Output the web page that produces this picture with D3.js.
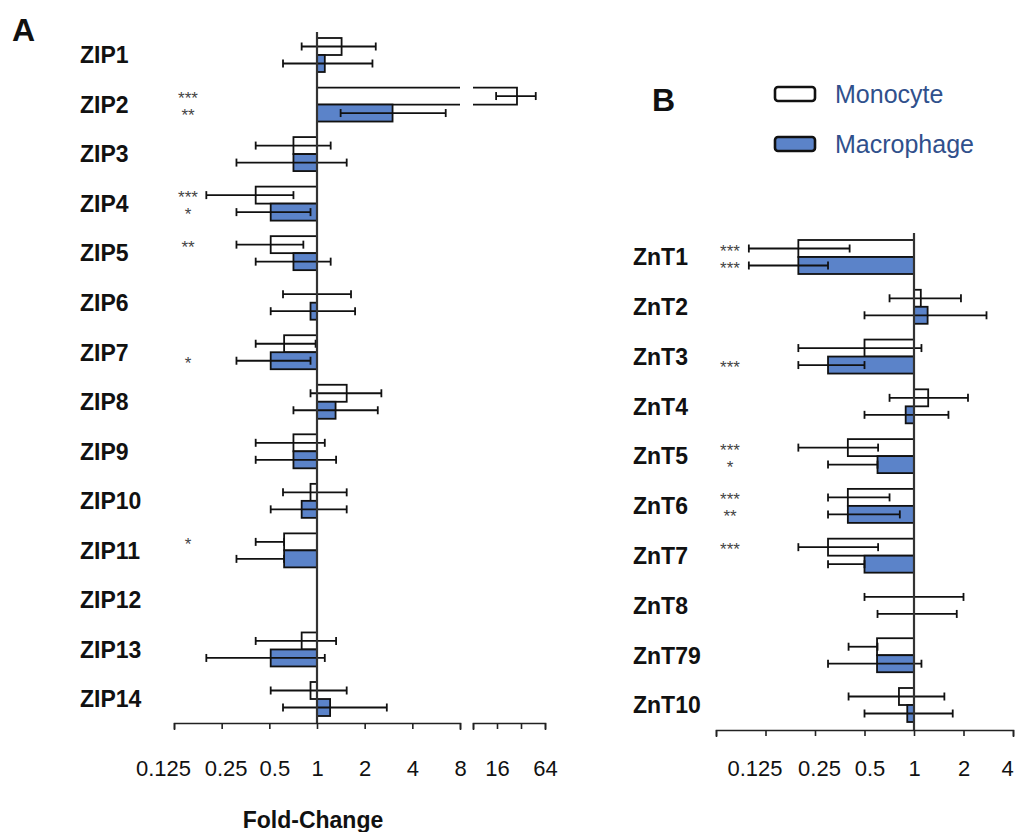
<!DOCTYPE html>
<html lang="en">
<head>
<meta charset="UTF-8">
<title>ZIP / ZnT fold-change</title>
<style>
  body { margin: 0; background: #fff; }
  svg { display: block; }
  .gene { font-family: "Liberation Sans Narrow", "Arial Narrow", sans-serif; font-weight: bold; font-size: 23px; fill: #111; }
  .tick text { font-family: "Liberation Sans Narrow", "Arial Narrow", sans-serif; font-size: 22px; fill: #111; }
  .tick line, .domain { stroke: #222; stroke-width: 1.6; }
  .star { font-family: "Liberation Sans", Arial, sans-serif; font-size: 17px; fill: #444; }
  .panel { font-family: "Liberation Sans", Arial, sans-serif; font-weight: bold; font-size: 32px; fill: #111; }
  .legend { font-family: "Liberation Sans", Arial, sans-serif; font-size: 25px; fill: #30508c; }
  .xtitle { font-family: "Liberation Sans Narrow", "Arial Narrow", sans-serif; font-weight: bold; font-size: 23px; fill: #111; }
</style>
</head>
<body>
<svg id="chart" width="1015" height="832"></svg>
<script src="https://d3js.org/d3.v7.min.js"></script>
<script>
// ---- panel A: ZIP transporters ----
const genesA   = ["ZIP1","ZIP2","ZIP3","ZIP4","ZIP5","ZIP6","ZIP7","ZIP8","ZIP9","ZIP10","ZIP11","ZIP12","ZIP13","ZIP14"];
const monoA    = [1.43, 28.5, 0.71, 0.41, 0.51, 1.0, 0.62, 1.54, 0.71, 0.91, 0.62, 1.0, 0.80, 0.91];
const monoLoA  = [0.80, 15.6, 0.41, 0.20, 0.31, 0.61, 0.41, 0.91, 0.41, 0.61, 0.41, null, 0.41, 0.51];
const monoHiA  = [2.35, 49.0, 1.22, 0.71, 0.82, 1.64, 0.98, 2.55, 1.12, 1.54, 0.62, null, 1.32, 1.54];
const macA     = [1.12, 3.0, 0.71, 0.51, 0.71, 0.91, 0.51, 1.31, 0.71, 0.80, 0.62, 1.0, 0.51, 1.21];
const macLoA   = [0.61, 1.41, 0.31, 0.31, 0.41, 0.51, 0.31, 0.71, 0.41, 0.51, 0.31, null, 0.20, 0.61];
const macHiA   = [2.24, 6.5, 1.54, 0.91, 1.22, 1.74, 0.91, 2.42, 1.32, 1.54, 0.62, null, 1.12, 2.76];
const starsMonoA = ["", "***", "", "***", "**", "", "", "", "", "", "*", "", "", ""];
const starsMacA  = ["", "**", "", "*", "", "", "*", "", "", "", "", "", "", ""];

// ---- panel B: ZnT transporters ----
const genesB   = ["ZnT1","ZnT2","ZnT3","ZnT4","ZnT5","ZnT6","ZnT7","ZnT8","ZnT79","ZnT10"];
const monoB    = [0.198, 1.10, 0.50, 1.22, 0.396, 0.396, 0.30, 1.0, 0.596, 0.81];
const monoLoB  = [0.099, 0.71, 0.198, 0.71, 0.198, 0.30, 0.198, 0.50, 0.40, 0.40];
const monoHiB  = [0.406, 1.93, 1.11, 2.13, 0.605, 0.71, 0.605, 2.0, 0.60, 1.53];
const macB     = [0.198, 1.21, 0.30, 0.89, 0.60, 0.396, 0.50, 1.0, 0.596, 0.91];
const macLoB   = [0.099, 0.50, 0.198, 0.50, 0.30, 0.30, 0.30, 0.60, 0.30, 0.50];
const macHiB   = [0.30, 2.76, 0.50, 1.62, 0.60, 0.82, 0.50, 1.82, 1.11, 1.72];
const starsMonoB = ["***", "", "", "", "***", "***", "***", "", "", ""];
const starsMacB  = ["***", "", "***", "", "*", "**", "", "", "", ""];

// tick labels
const ticksA1 = [0.125, 0.25, 0.5, 1, 2, 4, 8];
const ticksA2 = [8, 16, 32, 64];
const labelsA2 = {16: "16", 64: "64"};
const ticksB  = [0.0625, 0.125, 0.25, 0.5, 1, 2, 4];

const seriesNames = ["Monocyte", "Macrophage"];
const blue = "#5b83c9";

const svg = d3.select("#chart");
const barH = 17;

// broken log2 axis for A: 0.125..8 then 8..64 compressed
const xA1 = d3.scaleLog().base(2).domain([0.125, 8]).range([174, 460]);
const xA2 = d3.scaleLog().base(2).domain([8, 64]).range([473, 545]);
const xA = v => v <= 8 ? xA1(v) : xA2(v);
const xB = d3.scaleLog().base(2).domain([0.0625, 4]).range([716, 1013]);

const yA = d3.scalePoint().domain(genesA).range([55, 699]);
const yB = d3.scalePoint().domain(genesB).range([257, 705]);

function drawPanel(cfg) {
  const g = svg.append("g");
  const x = cfg.x, y = cfg.y, x1 = x(1);

  // gene labels
  g.selectAll(".gene").data(cfg.genes).enter().append("text")
    .attr("class", "gene")
    .attr("x", cfg.labelX)
    .attr("y", d => y(d))
    .attr("dy", "0.36em")
    .text(d => d);

  const series = [
    {vals: cfg.mono, lo: cfg.monoLo, hi: cfg.monoHi, stars: cfg.starsMono, fill: "#fff", off: -barH},
    {vals: cfg.mac,  lo: cfg.macLo,  hi: cfg.macHi,  stars: cfg.starsMac,  fill: blue,  off: 0}
  ];

  series.forEach(s => {
    cfg.genes.forEach((gene, i) => {
      const v = s.vals[i];
      const top = y(gene) + s.off;
      if (v > 8) {
        // bar crossing the axis break
        g.append("rect").attr("x", x1).attr("y", top)
          .attr("width", xA1(8) - x1).attr("height", barH)
          .attr("fill", s.fill).attr("stroke", "none");
        g.append("rect").attr("x", xA2(8)).attr("y", top)
          .attr("width", x(v) - xA2(8)).attr("height", barH)
          .attr("fill", s.fill).attr("stroke", "none");
        g.append("path")
          .attr("d", `M${x1},${top}H${xA1(8)}M${xA2(8)},${top}H${x(v)}V${top + barH}H${xA2(8)}M${xA1(8)},${top + barH}H${x1}`)
          .attr("fill", "none").attr("stroke", "#111").attr("stroke-width", 1.8);
      } else if (Math.abs(v - 1) > 0.005) {
        const a = Math.min(x(v), x1), b = Math.max(x(v), x1);
        g.append("rect").attr("x", a).attr("y", top)
          .attr("width", b - a).attr("height", barH)
          .attr("fill", s.fill).attr("stroke", "#111").attr("stroke-width", 1.8);
      }
    });
  });

  // error bars on top of bars
  series.forEach(s => {
    cfg.genes.forEach((gene, i) => {
      if (s.lo[i] == null) return;
      const cy = y(gene) + s.off + barH / 2;
      const l = x(s.lo[i]), r = x(s.hi[i]);
      g.append("line").attr("x1", l).attr("x2", r).attr("y1", cy).attr("y2", cy)
        .attr("stroke", "#111").attr("stroke-width", 1.8);
      [l, r].forEach(px => g.append("line")
        .attr("x1", px).attr("x2", px).attr("y1", cy - 4).attr("y2", cy + 4)
        .attr("stroke", "#111").attr("stroke-width", 1.8));
      if (s.stars[i]) {
        g.append("text").attr("class", "star")
          .attr("x", cfg.starX).attr("y", cy + 8)
          .attr("text-anchor", "middle")
          .text(s.stars[i]);
      }
    });
  });

  // baseline at fold-change 1
  g.append("line").attr("x1", x1).attr("x2", x1)
    .attr("y1", cfg.lineTop).attr("y2", cfg.axisY)
    .attr("stroke", "#333").attr("stroke-width", 2.2);
  return g;
}

drawPanel({
  genes: genesA, mono: monoA, monoLo: monoLoA, monoHi: monoHiA,
  mac: macA, macLo: macLoA, macHi: macHiA,
  starsMono: starsMonoA, starsMac: starsMacA,
  x: xA, y: yA, labelX: 80, starX: 188, lineTop: 32, axisY: 723
});

drawPanel({
  genes: genesB, mono: monoB, monoLo: monoLoB, monoHi: monoHiB,
  mac: macB, macLo: macLoB, macHi: macHiB,
  starsMono: starsMonoB, starsMac: starsMacB,
  x: xB, y: yB, labelX: 633, starX: 730, lineTop: 233, axisY: 730
});

// axes
const fmt = d => String(d);
// the small labels sit a little off their ticks in the original
const labelShift = {0.125: -11, 0.25: 4, 0.5: 5};

function shiftLabels(sel) {
  sel.selectAll(".tick text").attr("dx", d => labelShift[d] || 0);
}

svg.append("g").attr("transform", "translate(0,723)")
  .call(d3.axisBottom(xA1).tickValues(ticksA1).tickFormat(fmt).tickSize(6).tickSizeOuter(7).tickPadding(31))
  .call(shiftLabels);
svg.append("g").attr("transform", "translate(0,723)")
  .call(d3.axisBottom(xA2).tickValues(ticksA2).tickFormat(d => labelsA2[d] || "").tickSize(6).tickSizeOuter(7).tickPadding(31));
svg.append("g").attr("transform", "translate(0,730)")
  .call(d3.axisBottom(xB).tickValues(ticksB).tickFormat(d => d < 0.1 ? "" : fmt(d)).tickSize(6).tickSizeOuter(7).tickPadding(24))
  .call(shiftLabels)
  .selectAll(".tick text").filter(d => d === 4).attr("dx", -6);

// panel letters
svg.append("text").attr("class", "panel").attr("x", 12).attr("y", 41).text("A");
svg.append("text").attr("class", "panel").attr("x", 652).attr("y", 111).text("B");

// legend
const leg = svg.append("g");
seriesNames.forEach((name, i) => {
  const ly = 87 + i * 50;
  leg.append("rect").attr("x", 775).attr("y", ly).attr("width", 40).attr("height", 14).attr("rx", 3)
    .attr("fill", i === 0 ? "#fff" : blue).attr("stroke", "#111").attr("stroke-width", 2.6);
  leg.append("text").attr("class", "legend").attr("x", 835).attr("y", ly + 16).text(name);
});

// axis title
svg.append("text").attr("class", "xtitle").attr("x", 313).attr("y", 828)
  .attr("text-anchor", "middle").text("Fold-Change");
</script>
</body>
</html>
